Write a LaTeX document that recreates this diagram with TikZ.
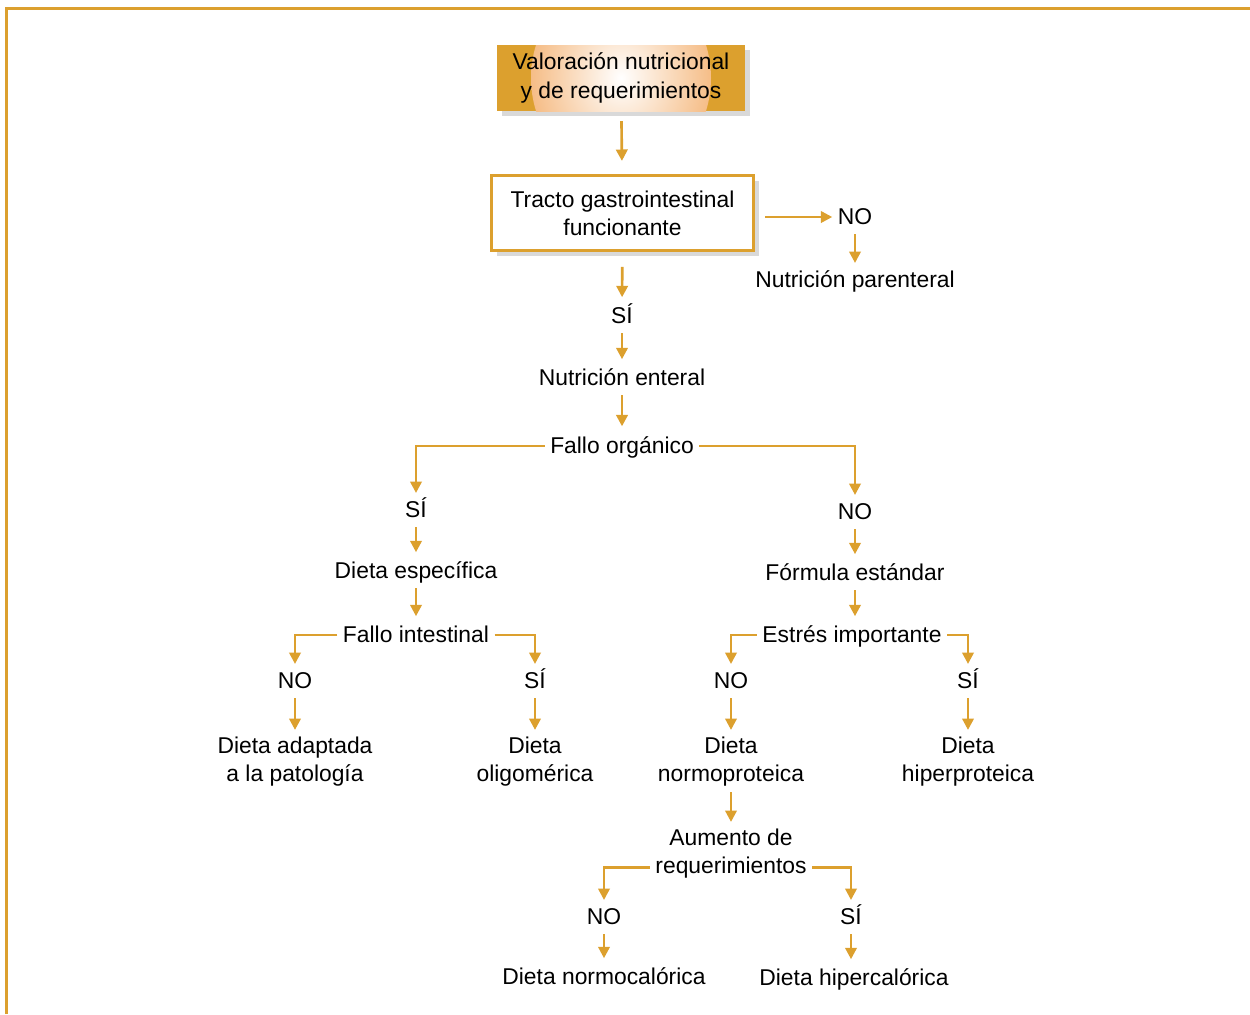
\documentclass[tikz,border=0pt]{standalone}
\usepackage{fontspec}
\setmainfont{Liberation Sans}
\usetikzlibrary{arrows.meta,shadows}
\definecolor{gold}{RGB}{220,160,46}
\definecolor{glowor}{RGB}{238,138,42}
\tikzstyle{lbl} = [font=\fontsize{13}{16}\selectfont, text height=11pt, text depth=2pt, inner sep=3pt]
\tikzstyle{lbltwo} = [font=\fontsize{13}{16}\selectfont, align=center, inner sep=3pt]
\tikzstyle{topbox} = [rectangle, minimum width=4.96cm, minimum height=1.32cm, fill=gold, font=\fontsize{13}{16}\selectfont, align=center, drop shadow={shadow xshift=3pt, shadow yshift=-3pt, opacity=0.3}, path picture={\begin{scope}\clip (path picture bounding box.center) ellipse (1.8cm and 2cm); \shade[inner color=white, outer color=glowor] (path picture bounding box.center) ellipse (3.2cm and 3.6cm);\end{scope}}]
\tikzstyle{box} = [rectangle, minimum width=5.24cm, minimum height=1.5cm, draw=gold, line width=1.6pt, fill=white, font=\fontsize{13}{16}\selectfont, align=center, drop shadow={shadow xshift=3pt, shadow yshift=-3pt, opacity=0.3}]
\tikzstyle{arrow} = [draw=gold, line width=1.5pt, -{Triangle[length=6.5pt,width=6.5pt]}]
\tikzstyle{frame} = [draw=gold, line width=1.7pt]

\begin{document}
\begin{tikzpicture}[node distance=1.24cm]
    \useasboundingbox (0,0) rectangle (25,-20.28);
    \draw[frame] (0.125,-20.28) -- (0.125,-0.17) -- (25,-0.17);

    \node (1) [topbox] at (12.42,-1.56) {Valoración nutricional\\y de requerimientos};
    \node (2) [box] at (12.45,-4.26) {Tracto gastrointestinal\\funcionante};
    \node (3) [lbl] at (17.1,-4.34) {NO};
    \node (4) [lbl, node distance=1.26cm, below of=3] {Nutrición parenteral};
    \node (5) [lbl] at (12.44,-6.32) {SÍ};
    \node (6) [lbl, below of=5] {Nutrición enteral};
    \node (7) [lbl, node distance=1.36cm, below of=6] {Fallo orgánico};

    \node (8) [lbl] at (8.32,-10.2) {SÍ};
    \node (10) [lbl, node distance=1.22cm, below of=8] {Dieta específica};
    \node (11) [lbl, node distance=1.28cm, below of=10] {Fallo intestinal};
    \node (12) [lbl] at (5.9,-13.62) {NO};
    \node (13) [lbl] at (10.7,-13.62) {SÍ};
    \node (14) [lbltwo, node distance=1.62cm, below of=12] {Dieta adaptada\\a la patología};
    \node (15) [lbltwo, node distance=1.62cm, below of=13] {Dieta\\oligomérica};

    \node (9) [lbl] at (17.1,-10.24) {NO};
    \node (16) [lbl, node distance=1.22cm, below of=9] {Fórmula estándar};
    \node (17) [lbl] at (17.04,-12.7) {Estrés importante};
    \node (18) [lbl] at (14.62,-13.62) {NO};
    \node (19) [lbl] at (19.36,-13.62) {SÍ};
    \node (20) [lbltwo, node distance=1.62cm, below of=18] {Dieta\\normoproteica};
    \node (21) [lbltwo, node distance=1.62cm, below of=19] {Dieta\\hiperproteica};
    \node (22) [lbltwo, node distance=1.84cm, below of=20] {Aumento de\\requerimientos};
    \node (23) [lbl] at (12.08,-18.34) {NO};
    \node (24) [lbl] at (17.02,-18.34) {SÍ};
    \node (25) [lbl, node distance=1.2cm, below of=23] {Dieta normocalórica};
    \node (26) [lbl, node distance=1.22cm, below of=24, xshift=0.06cm] {Dieta hipercalórica};

    \draw[arrow, shorten <=5.5pt, shorten >=7.5pt] (1) -- (2);
    \draw[arrow, shorten <=6pt] (2.east |- 3) -- (3);
    \draw[arrow] (3) -- (4);
    \draw[arrow, shorten <=8.5pt, shorten >=1pt] (2) -- (5);
    \draw[arrow, shorten >=1pt] (5) -- (6);
    \draw[arrow, shorten >=1.5pt] (6) -- (7);
    \draw[arrow] (7.west) -| (8);
    \draw[arrow] (7.east) -| (9);
    \draw[arrow, shorten >=1pt] (8) -- (10);
    \draw[arrow, shorten >=1pt] (10) -- (11);
    \draw[arrow] (11.west) -| (12);
    \draw[arrow] (11.east) -| (13);
    \draw[arrow, shorten >=1pt] (12) -- (14);
    \draw[arrow, shorten >=1pt] (13) -- (15);
    \draw[arrow, shorten >=1pt] (9) -- (16);
    \draw[arrow, shorten >=1pt] (16) -- (16 |- 17.north);
    \draw[arrow] (17.west) -| (18);
    \draw[arrow] (17.east) -| (19);
    \draw[arrow, shorten >=1pt] (18) -- (20);
    \draw[arrow, shorten >=1pt] (19) -- (21);
    \draw[arrow, shorten >=1pt] (20) -- (22);
    \draw[arrow] ([yshift=-7.5pt]22.west) -| (23);
    \draw[arrow] ([yshift=-7.5pt]22.east) -| (24);
    \draw[arrow, shorten >=1pt] (23) -- (25);
    \draw[arrow, shorten >=1pt] (24) -- (24 |- 26.north);
  \end{tikzpicture}
\end{document}
